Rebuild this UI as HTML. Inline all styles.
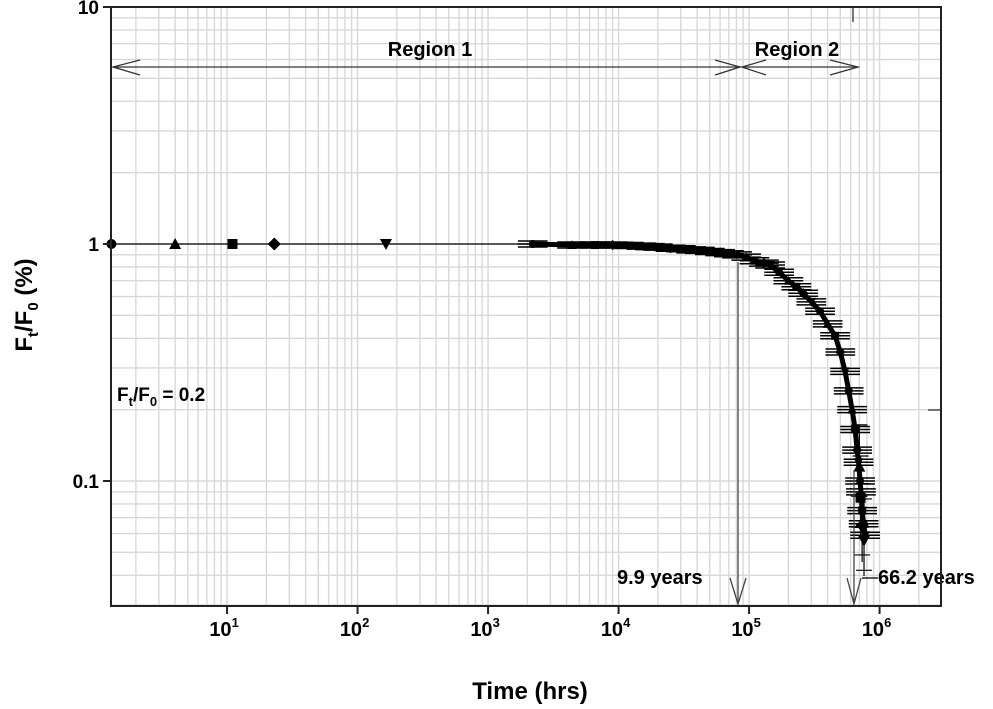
<!DOCTYPE html>
<html><head><meta charset="utf-8"><style>
body{margin:0;background:#fff;width:993px;height:709px;overflow:hidden}
svg{display:block;font-family:"Liberation Sans",Arial,sans-serif}
</style></head><body>
<svg id="chart" width="993" height="709">
<g id="grid"></g>
<g id="series"></g>
<g id="annot"></g>
<g id="axes"></g>
</svg>
<script>
const xTicks=[1,2,3,4,5,6];
const yTickVals=[0.1,1,10];
const yTickLabels=["0.1","1","10"];
const markerTimes=[1.3,4,11,23,165];
const markerShapes=["circle","tri","square","diamond","tridown"];
const curveTimes=[2200,4400,6600,9000,12000,15000,17400,20000,25000,30000,36000,42000,50000,60000,70000,81000,95000,110000,130000,145000,170000,200000,230000,260000,300000,350000,400000,456000,500000,544000,580000,616000,650000,673000,690000,709000,720000,735000,755000,775000];
const curveValues=[1.0,0.99,0.99,0.99,0.985,0.98,0.975,0.97,0.96,0.955,0.945,0.94,0.93,0.92,0.91,0.90,0.88,0.85,0.83,0.815,0.76,0.70,0.66,0.62,0.57,0.52,0.46,0.41,0.35,0.29,0.24,0.20,0.165,0.135,0.12,0.10,0.09,0.075,0.066,0.059];
const endMarkerTimes=[700000,715000,735000,760000];
const endMarkerValues=[0.115,0.085,0.065,0.056];
const L=111,R=941,T=7,B=606;
const xmin=Math.log10(1.29),xdec=130.5;
function X(t){return L+(Math.log10(t)-xmin)*xdec;}
function Y(v){return 244-Math.log10(v)*237;}
const NS="http://www.w3.org/2000/svg";
function mk(par,tag,at){const e=document.createElementNS(NS,tag);for(const k in at)e.setAttribute(k,at[k]);par.appendChild(e);return e;}
const grid=document.getElementById('grid'),ser=document.getElementById('series');
for(let d=0;d<=6;d++)for(let m=1;m<10;m++){const t=m*Math.pow(10,d);const x=X(t);if(x<=L+1||x>=R)continue;
const g=mk(grid,'line',{x1:x,x2:x,y1:T,y2:B,stroke:'#d8d8d8','stroke-width':1.4});

}
for(let d=-2;d<=0;d++)for(let m=1;m<10;m++){const v=m*Math.pow(10,d);const y=Y(v);if(y<=T||y>=B)continue;
const g=mk(grid,'line',{x1:L,x2:R,y1:y,y2:y,stroke:'#d8d8d8','stroke-width':1.4});

}
let bl=mk(ser,'line',{x1:X(markerTimes[0]),x2:X(curveTimes[0]),y1:Y(1),y2:Y(1),stroke:'#000','stroke-width':1.3});


function marker(shape,x,y,s){
 let e;
 if(shape==='circle')e=mk(ser,'circle',{cx:x,cy:y,r:s});
 else if(shape==='square')e=mk(ser,'rect',{x:x-s,y:y-s,width:2*s,height:2*s});
 else if(shape==='tri')e=mk(ser,'polygon',{points:`${x},${y-s*1.2} ${x-s*1.2},${y+s} ${x+s*1.2},${y+s}`});
 else if(shape==='tridown')e=mk(ser,'polygon',{points:`${x},${y+s*1.2} ${x-s*1.2},${y-s} ${x+s*1.2},${y-s}`});
 else e=mk(ser,'polygon',{points:`${x},${y-s*1.3} ${x+s*1.3},${y} ${x},${y+s*1.3} ${x-s*1.3},${y}`});
 e.setAttribute('fill','#000');
 return e;
}
markerTimes.forEach((t,i)=>{const m=marker(markerShapes[i],X(t),Y(1),5);

});
let pts=curveTimes.map((t,i)=>X(t)+','+Y(curveValues[i])).join(' ');
let pl=mk(ser,'polyline',{points:pts,fill:'none',stroke:'#000','stroke-width':5});


curveTimes.forEach((t,i)=>{const v=curveValues[i];const x=X(t),y=Y(v);
 for(const off of [-3,0,3]){
 const eb=mk(ser,'line',{x1:X(t/1.3),x2:X(t*1.3),y1:y+off,y2:y+off,stroke:'#000','stroke-width':1.5});
 
 }
 const c=marker(markerShapes[i%5],x,y,4);
 
 
});
endMarkerTimes.forEach((t,i)=>{const v=endMarkerValues[i];const x=X(t),y=Y(v);
 const vb=mk(ser,'line',{x1:x,x2:x,y1:Y(v*1.5),y2:Math.min(B-30,Y(v*0.7)),stroke:'#000','stroke-width':1.2});
 
 
 for(const yy of [Y(v*1.5),Y(v*0.75)]){const c=mk(ser,'line',{x1:x-8,x2:x+8,y1:yy,y2:yy,stroke:'#000','stroke-width':1.2});
 
 }
 const m=marker(markerShapes[(i+1)%5],x,y,5);
 
 
});
</script>
<script>
const a=document.getElementById('annot');
a.innerHTML=`
<line x1="113" y1="67" x2="740" y2="67" stroke="#333" stroke-width="1.3"/>
<polyline points="140,60 113,67 140,75" fill="none" stroke="#333" stroke-width="1.3"/>
<polyline points="715,60 740,67 715,75" fill="none" stroke="#333" stroke-width="1.3"/>
<line x1="740" y1="67" x2="858" y2="67" stroke="#333" stroke-width="1.3"/>
<polyline points="766,60 742,67 766,75" fill="none" stroke="#333" stroke-width="1.3"/>
<polyline points="830,60 858,67 830,75" fill="none" stroke="#333" stroke-width="1.3"/>
<text x="430" y="56" font-size="20" font-weight="bold" text-anchor="middle">Region 1</text>
<text x="797" y="56" font-size="20" font-weight="bold" text-anchor="middle">Region 2</text>
<line x1="738" y1="262" x2="738" y2="604" stroke="#444" stroke-width="1.3"/>
<polyline points="730,578 738,604 746,578" fill="none" stroke="#444" stroke-width="1.3"/>
<line x1="854" y1="470" x2="854" y2="604" stroke="#444" stroke-width="1.3"/>
<polyline points="847,578 854,604 861,578" fill="none" stroke="#444" stroke-width="1.3"/>
<line x1="862" y1="578" x2="878" y2="578" stroke="#000" stroke-width="1.3"/>
<text x="617" y="584" font-size="20" font-weight="bold">9.9 years</text>
<text x="878" y="584" font-size="20" font-weight="bold">66.2 years</text>
<text x="117" y="401" font-size="19" font-weight="bold">F<tspan font-size="13" dy="5">t</tspan><tspan dy="-5">/F</tspan><tspan font-size="13" dy="5">0</tspan><tspan dy="-5"> = 0.2</tspan></text>
<line x1="853" y1="7" x2="853" y2="22" stroke="#333" stroke-width="1.3"/>
<line x1="928" y1="410" x2="941" y2="410" stroke="#333" stroke-width="1.3"/>`;
const x=document.getElementById('axes');
let h=`<rect x="111" y="7" width="830" height="599" fill="none" stroke="#222" stroke-width="2"/>`;
xTicks.forEach(d=>{const px=X(Math.pow(10,d));h+=`<line x1="${px}" x2="${px}" y1="606" y2="614" stroke="#222" stroke-width="2"/>
<text x="${px-3}" y="636" font-size="20" font-weight="bold" text-anchor="middle">10<tspan font-size="13" dy="-9">${d}</tspan></text>`;});
yTickVals.forEach((v,i)=>{const py=Y(v);h+=`<line x1="103" x2="111" y1="${py}" y2="${py}" stroke="#222" stroke-width="2"/>
<text x="99" y="${py+7}" font-size="19" font-weight="bold" text-anchor="end">${yTickLabels[i]}</text>`;});
h+=`<text x="530" y="699" font-size="24" font-weight="bold" text-anchor="middle">Time (hrs)</text>
<text transform="translate(32,305) rotate(-90)" font-size="24" font-weight="bold" text-anchor="middle">F<tspan font-size="15" dy="6">t</tspan><tspan dy="-6">/F</tspan><tspan font-size="15" dy="6">0</tspan><tspan dy="-6"> (%)</tspan></text>`;
x.innerHTML=h;
</script>
</body></html>
